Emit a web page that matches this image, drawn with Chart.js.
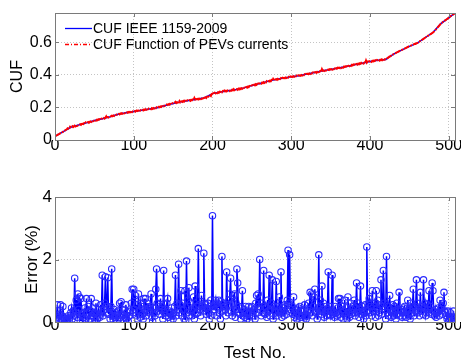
<!DOCTYPE html>
<html><head><meta charset="utf-8">
<script src="https://cdn.jsdelivr.net/npm/chart.js@4.4.1/dist/chart.umd.min.js"></script>
<style>
html,body{margin:0;padding:0;background:#fff;overflow:hidden;width:461px;height:360px}
#c1{position:absolute;left:0;top:0}
#c2{position:absolute;left:0;top:180px}
</style></head>
<body>
<canvas id="c1" width="461" height="178"></canvas>
<canvas id="c2" width="461" height="190"></canvas>
<script>
// ---- DATA ----
const seriesLabels = ['CUF IEEE 1159-2009', 'CUF Function of PEVs currents'];
const xTicks = [0, 100, 200, 300, 400, 500];
const cufTicks = [0, 0.2, 0.4, 0.6];
const errTicks = [0, 2, 4];

// CUF IEEE 1159-2009 (smooth reference) read at these test numbers
const cufIeeeTest = [1,10,20,30,40,50,60,70,80,90,100,110,120,130,140,150,160,170,180,190,200,210,220,230,240,250,260,270,280,290,300,310,320,330,340,350,360,370,380,390,400,410,420,430,440,450,460,470,480,490,500,508];
const cufIeee = [.025,.05,.078,.092,.105,.12,.13,.143,.158,.168,.175,.183,.19,.198,.212,.224,.235,.243,.25,.26,.285,.295,.303,.31,.32,.335,.347,.36,.372,.38,.388,.395,.405,.415,.425,.433,.442,.452,.462,.472,.482,.49,.495,.527,.552,.575,.595,.628,.66,.715,.75,.78];

// CUF as a function of PEV currents, test 1..508
const cufFunc = [
.025,.028,.030,.034,.036,.039,.042,.044,.047,.050,
.053,.056,.060,.063,.066,.072,.070,.075,.082,.078,
.080,.085,.079,.083,.088,.084,.090,.086,.089,.092,
.094,.097,.093,.099,.100,.098,.103,.101,.108,.105,
.107,.110,.106,.112,.114,.111,.117,.115,.118,.120,
.122,.119,.124,.121,.127,.125,.128,.126,.131,.130,
.132,.135,.131,.137,.145,.134,.140,.138,.142,.143,
.145,.149,.146,.151,.148,.154,.152,.156,.155,.158,
.160,.157,.163,.161,.165,.162,.167,.164,.166,.168,
.170,.167,.172,.169,.173,.171,.178,.172,.176,.175,
.177,.174,.179,.182,.178,.181,.185,.180,.184,.183,
.185,.182,.187,.184,.189,.186,.191,.188,.192,.190,
.192,.189,.195,.191,.196,.193,.197,.195,.201,.198,
.200,.204,.201,.206,.203,.208,.206,.210,.208,.212,
.214,.218,.215,.220,.217,.222,.219,.221,.226,.224,
.226,.229,.234,.227,.232,.230,.233,.240,.231,.235,
.237,.234,.240,.236,.242,.238,.239,.244,.241,.243,
.245,.241,.247,.244,.249,.246,.258,.248,.251,.250,
.252,.249,.254,.251,.256,.253,.262,.255,.258,.260,
.262,.258,.265,.261,.268,.272,.275,.270,.282,.285,
.287,.283,.290,.286,.292,.288,.293,.290,.297,.295,
.297,.293,.300,.296,.303,.298,.302,.299,.305,.303,
.305,.301,.307,.303,.309,.305,.312,.306,.310,.310,
.312,.308,.315,.311,.317,.313,.318,.315,.322,.320,
.322,.319,.325,.322,.328,.325,.331,.328,.333,.335,
.337,.334,.340,.336,.343,.339,.345,.342,.348,.347,
.349,.346,.352,.349,.355,.351,.357,.354,.362,.360,
.362,.359,.365,.361,.368,.364,.375,.366,.371,.372,
.374,.370,.376,.373,.378,.375,.380,.377,.382,.380,
.382,.379,.384,.381,.386,.383,.388,.385,.390,.388,
.390,.387,.392,.389,.394,.391,.396,.393,.397,.395,
.397,.394,.399,.396,.401,.398,.404,.401,.406,.405,
.407,.404,.409,.406,.411,.408,.414,.411,.416,.415,
.417,.413,.419,.416,.422,.419,.424,.421,.435,.425,
.427,.424,.429,.426,.431,.428,.433,.430,.435,.433,
.435,.432,.437,.434,.439,.436,.441,.438,.444,.442,
.444,.441,.446,.443,.449,.445,.451,.448,.453,.452,
.454,.450,.456,.453,.459,.455,.461,.458,.464,.462,
.464,.460,.466,.463,.469,.465,.471,.468,.474,.472,
.474,.470,.476,.473,.488,.475,.481,.478,.484,.482,
.484,.480,.486,.483,.488,.485,.490,.487,.492,.490,
.492,.488,.493,.490,.495,.491,.496,.493,.497,.495,
.498,.502,.506,.509,.513,.515,.518,.521,.524,.527,
.530,.532,.535,.538,.540,.543,.545,.548,.550,.552,
.554,.556,.559,.561,.564,.566,.569,.571,.574,.575,
.577,.579,.582,.584,.586,.589,.591,.590,.594,.595,
.598,.602,.605,.609,.612,.615,.618,.621,.625,.628,
.631,.634,.638,.641,.644,.647,.650,.653,.657,.660,
.664,.669,.675,.680,.686,.692,.697,.703,.709,.715,
.719,.722,.726,.729,.733,.736,.740,.743,.747,.750,
.754,.758,.762,.765,.769,.772,.776,.780];

// Error (%), test 1..508
const errorPct = [
.10,.20,.55,.15,.05,.25,.55,.10,.20,.50,.15,.05,.10,.02,.12,.08,.20,.05,.15,.30,
.45,.10,.35,.20,1.40,.30,.70,.15,.90,.40,.80,.05,.75,.20,.02,.30,.15,.45,.10,.75,
.25,.50,.05,.35,.10,.75,.20,.45,.15,.30,.05,.60,.25,.10,.40,.20,.15,.55,.30,1.50,
.20,.40,.60,1.45,.50,.30,1.42,.25,.45,.10,.50,1.70,.20,.05,.40,.15,.30,.20,.05,.35,
.10,.60,.15,.65,.25,.20,.05,.40,.15,.55,.10,.30,.02,.20,.20,.35,.60,1.05,.30,1.05,
.40,.85,.20,.55,.10,.90,.35,.15,.60,.50,.25,.10,.75,.40,.75,.20,.60,.35,.45,.30,
.50,.90,.15,.02,.45,.30,.20,1.05,1.70,.60,.35,.50,.25,.75,.40,.50,.10,1.65,.30,.40,
.20,.60,.75,.15,.35,.30,.05,.45,.20,.10,.30,.50,1.50,.20,.60,.40,1.85,.30,.55,1.00,
.20,.60,.40,.10,1.00,.05,1.95,.30,.70,1.10,.20,.60,.35,.20,.45,.80,.10,1.15,.25,.50,
.30,2.35,.55,.40,.20,.85,.50,.35,2.20,.60,.55,.25,.45,.60,.30,.10,.50,.70,.20,3.40,
.50,.40,.55,.70,.20,.60,.45,.70,.30,.10,.65,2.10,.35,.60,.50,.40,.20,1.60,.55,.30,
.70,.90,1.40,.35,.20,.60,.85,.90,.15,.40,1.70,1.25,.30,.50,.25,.10,.45,1.00,.20,.40,
.15,.50,.30,.10,.25,.50,.05,.30,.45,.50,.20,.35,.40,.10,.60,.85,.30,.90,.50,2.00,
.40,.20,.60,.30,1.65,.50,.25,.45,.15,.70,.35,1.50,.20,.40,.60,1.35,.10,.50,.35,.30,
1.30,.20,.50,.35,.80,.30,1.60,.15,.45,.35,.20,.55,.50,.25,.70,2.30,.60,2.15,.40,.30,
.50,.25,.80,.15,.40,.20,.10,.30,.45,.20,.50,.15,.35,.20,.05,.40,.55,.20,.10,.35,
.20,.60,.40,.95,.30,.90,.20,.50,.80,1.05,.35,.30,.10,.45,2.15,.35,.70,.25,1.15,.40,
.60,.15,.30,.50,.20,.40,1.60,.25,.50,.20,.35,1.50,.25,.30,.15,.50,.30,.20,.45,.75,
.25,.75,.15,.50,.40,.10,.35,.70,.20,.45,.10,.80,.30,.15,.60,.25,.40,.30,.50,.70,
.20,.45,1.25,.30,.60,.15,.40,1.15,.25,.50,.35,.10,.30,.55,.20,2.40,.35,.60,.75,.30,
.50,.20,1.00,.35,.50,.60,.15,1.00,.45,.70,.20,.30,.55,1.35,.25,.50,1.65,.60,.40,.10,
2.10,.30,.50,.20,.85,.40,.15,.30,.55,.20,.50,.35,.10,.60,.25,.40,.95,.20,.35,.40,
.15,.30,.45,.50,.20,.15,.35,.70,.25,.40,.10,.60,.30,.50,1.05,.20,.50,.35,1.35,.60,
.30,.40,.20,.95,.35,.50,.25,1.35,.45,.60,.20,.30,.55,.40,1.00,.30,.50,.25,1.25,1.00,
.35,.20,.40,.15,.30,.30,.45,.20,.70,.40,.50,.25,.60,.95,.35,.30,.20,.10,.35,.05,
.10,.30,.02,.15,.05,.35,.10,.15];

// ---- CHART ----
const FONT = "'Liberation Sans', Arial, sans-serif";
const frame = {
  id: 'frame',
  afterDatasetsDraw(chart) {
    const {ctx, chartArea: a, scales} = chart;
    ctx.save();
    ctx.strokeStyle = '#7a7a7a';
    ctx.lineWidth = 1;
    ctx.strokeRect(Math.round(a.left) + 0.5, Math.round(a.top) + 0.5, Math.round(a.right - a.left), Math.round(a.bottom - a.top));
    ctx.beginPath();
    scales.x.ticks.forEach(t => {
      const px = Math.round(scales.x.getPixelForValue(t.value)) + 0.5;
      ctx.moveTo(px, a.bottom); ctx.lineTo(px, a.bottom - 4);
      ctx.moveTo(px, a.top); ctx.lineTo(px, a.top + 4);
    });
    scales.y.ticks.forEach(t => {
      const py = Math.round(scales.y.getPixelForValue(t.value)) + 0.5;
      ctx.moveTo(a.left, py); ctx.lineTo(a.left + 4, py);
      ctx.moveTo(a.right, py); ctx.lineTo(a.right - 4, py);
    });
    ctx.stroke();
    ctx.restore();
  }
};
const inLegend = {
  id: 'inLegend',
  afterDraw(chart) {
    const ctx = chart.ctx;
    ctx.save();
    ctx.font = '14px ' + FONT;
    ctx.textBaseline = 'middle';
    ctx.fillStyle = '#000';
    chart.data.datasets.forEach((ds, i) => {
      const y = 28 + i * 16;
      ctx.beginPath();
      ctx.strokeStyle = ds.borderColor;
      ctx.lineWidth = 1.3;
      ctx.setLineDash(i === 1 ? [4, 2, 1, 2] : []);
      ctx.moveTo(65, y + 0.5); ctx.lineTo(92, y + 0.5);
      ctx.stroke();
      ctx.setLineDash([]);
      ctx.fillText(ds.label, 93, y + 1);
    });
    ctx.restore();
  }
};

function xScale(titleOn, pad) {
  return {
    type: 'linear', min: 0, max: 508,
    afterBuildTicks: s => { s.ticks = xTicks.map(v => ({value: v})); },
    afterFit: s => { s.height = titleOn ? 48 : 38; },
    ticks: {font: {family: FONT, size: 16}, color: '#000', padding: pad, maxRotation: 0, autoSkip: false},
    grid: {color: '#c4c4c4', drawTicks: false},
    border: {display: false, dash: [1, 2]},
    title: titleOn ? {display: true, text: 'Test No.', font: {family: FONT, size: 17}, color: '#000', padding: {top: 0, bottom: 6}} : {display: false}
  };
}

const d1 = {
  datasets: [
    {label: seriesLabels[0], data: cufIeee.map((v, i) => ({x: cufIeeeTest[i], y: v})), borderColor: '#0000ff', borderWidth: 1.5, pointRadius: 0, order: 2},
    {label: seriesLabels[1], data: cufFunc.map((v, i) => ({x: i + 1, y: v})), borderColor: '#ff0000', borderWidth: 2, borderDash: [6, 1, 2, 1], pointRadius: 0, order: 1}
  ]
};
new Chart(document.getElementById('c1'), {
  type: 'line',
  data: d1,
  options: {
    responsive: false, animation: false,
    layout: {padding: {top: 13, right: 6, left: 0, bottom: 0}},
    plugins: {legend: {display: false}, tooltip: {enabled: false}},
    scales: {
      x: xScale(false, -4),
      y: {
        min: 0, max: 0.78,
        afterBuildTicks: s => { s.ticks = cufTicks.map(v => ({value: v})); },
        afterFit: s => { s.width = 55; },
        ticks: {font: {family: FONT, size: 16}, color: '#000', padding: 3},
        grid: {color: '#c4c4c4', drawTicks: false},
        border: {display: false, dash: [1, 2]},
        title: {display: true, text: 'CUF', font: {family: FONT, size: 16}, color: '#000', padding: {top: 8, bottom: 0}}
      }
    }
  },
  plugins: [frame, inLegend]
});

new Chart(document.getElementById('c2'), {
  type: 'line',
  data: {
    datasets: [{
      label: 'Error (%)',
      data: errorPct.map((v, i) => ({x: i + 1, y: v})),
      borderColor: '#0000ff', borderWidth: 1.5,
      pointRadius: 3.2, pointBorderWidth: 1.1, pointBorderColor: '#2a2aff',
      pointBackgroundColor: 'rgba(0,0,0,0)', pointStyle: 'circle'
    }]
  },
  options: {
    responsive: false, animation: false,
    layout: {padding: {top: 17, right: 6, left: 0, bottom: 0}},
    plugins: {legend: {display: false}, tooltip: {enabled: false}},
    scales: {
      x: xScale(true, -6),
      y: {
        min: 0, max: 4,
        afterBuildTicks: s => { s.ticks = errTicks.map(v => ({value: v})); },
        afterFit: s => { s.width = 55; },
        ticks: {font: {family: FONT, size: 17}, color: '#000', padding: 3},
        grid: {color: '#c4c4c4', drawTicks: false},
        border: {display: false, dash: [1, 2]},
        title: {display: true, text: 'Error (%)', font: {family: FONT, size: 17}, color: '#000', padding: {top: 22, bottom: 0}}
      }
    }
  },
  plugins: [frame]
});
</script>
</body></html>
